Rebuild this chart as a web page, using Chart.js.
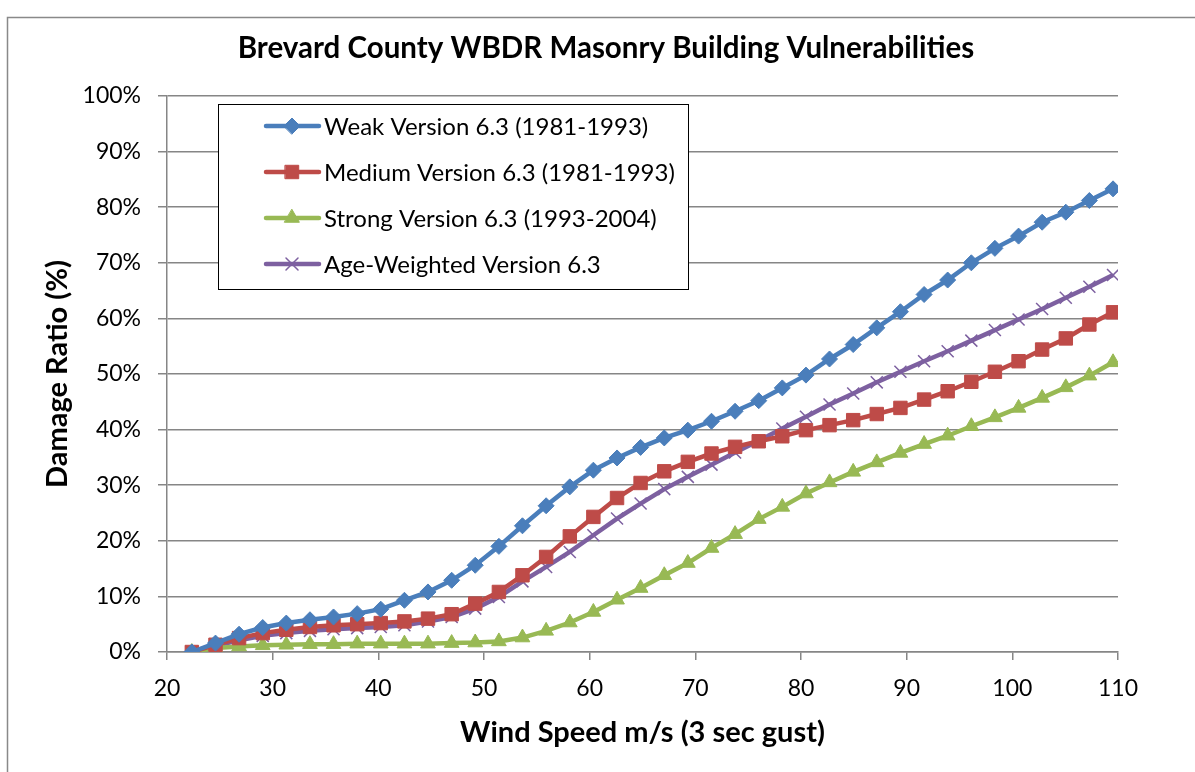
<!DOCTYPE html>
<html>
<head>
<meta charset="utf-8">
<script src="https://cdn.jsdelivr.net/npm/chart.js@4.4.1/dist/chart.umd.min.js"></script>
<style>
html,body{margin:0;padding:0;background:#fff;}
canvas{display:block;}
</style>
</head>
<body>
<canvas id="c" width="1195" height="772"></canvas>
<script>
// Wind speed (m/s, 3 sec gust) — 5 mph steps from 50 mph
const windSpeed = [22.35, 24.59, 26.82, 29.06, 31.29, 33.53, 35.76, 38.00, 40.23, 42.47,
  44.70, 46.94, 49.17, 51.41, 53.64, 55.88, 58.12, 60.35, 62.59, 64.82,
  67.06, 69.29, 71.53, 73.76, 76.00, 78.23, 80.47, 82.70, 84.94, 87.17,
  89.41, 91.65, 93.88, 96.12, 98.35, 100.59, 102.82, 105.06, 107.29, 109.53];

const weak = [0, 1.6, 3.2, 4.4, 5.2, 5.8, 6.3, 6.9, 7.7, 9.3,
  10.8, 12.9, 15.6, 19.0, 22.7, 26.3, 29.7, 32.7, 34.9, 36.8,
  38.5, 39.9, 41.5, 43.3, 45.2, 47.5, 49.8, 52.7, 55.3, 58.3,
  61.2, 64.3, 66.9, 70.0, 72.6, 74.8, 77.3, 79.1, 81.2, 83.3];

const medium = [0, 1.3, 2.5, 3.4, 4.0, 4.5, 4.8, 5.0, 5.2, 5.5,
  6.0, 6.8, 8.7, 10.8, 13.8, 17.1, 20.8, 24.3, 27.7, 30.4,
  32.5, 34.2, 35.7, 36.9, 37.9, 38.8, 39.9, 40.8, 41.7, 42.8,
  43.9, 45.4, 46.9, 48.6, 50.4, 52.3, 54.4, 56.4, 58.9, 61.1];

const strong = [0, 0.7, 1.0, 1.2, 1.3, 1.4, 1.4, 1.5, 1.5, 1.5,
  1.5, 1.6, 1.7, 1.9, 2.6, 3.8, 5.3, 7.2, 9.4, 11.5,
  13.8, 16.0, 18.7, 21.2, 23.9, 26.1, 28.5, 30.5, 32.4, 34.1,
  35.8, 37.4, 38.9, 40.6, 42.2, 43.9, 45.7, 47.6, 49.7, 52.1];

const ageWeighted = [0, 1.1, 2.1, 2.9, 3.4, 3.8, 4.1, 4.3, 4.5, 4.8,
  5.5, 6.3, 7.8, 9.9, 12.7, 15.3, 18.0, 21.0, 24.0, 26.7,
  29.3, 31.5, 33.7, 35.9, 38.0, 40.2, 42.3, 44.5, 46.5, 48.5,
  50.4, 52.3, 54.1, 56.0, 57.9, 59.8, 61.7, 63.7, 65.7, 67.8];

const seriesNames = ['Weak Version 6.3 (1981-1993)', 'Medium Version 6.3 (1981-1993)',
  'Strong Version 6.3 (1993-2004)', 'Age-Weighted Version 6.3'];

const chartTitle = 'Brevard County WBDR Masonry Building Vulnerabilities';

const xTicks = [20, 30, 40, 50, 60, 70, 80, 90, 100, 110];
const yTicks = [0, 10, 20, 30, 40, 50, 60, 70, 80, 90, 100];

const pts = arr => arr.map((v, i) => ({x: windSpeed[i], y: v}));

const styles = [
  {color: '#4A7EBB', pointStyle: 'rectRot', radius: 8, bw: 1},
  {color: '#BE4B48', pointStyle: 'rect', radius: 9.5, bw: 1},
  {color: '#98B954', pointStyle: 'triangle', radius: 8.5, bw: 1},
  {color: '#7D60A0', pointStyle: 'crossRot', radius: 8.5, bw: 1.5}
];
const seriesData = [weak, medium, strong, ageWeighted];

const datasets = seriesData.map((d, k) => ({
  label: seriesNames[k],
  data: pts(d),
  borderColor: styles[k].color,
  backgroundColor: styles[k].color,
  borderWidth: 4.5,
  pointStyle: styles[k].pointStyle,
  pointRadius: styles[k].radius,
  pointBorderWidth: styles[k].bw,
  pointBackgroundColor: styles[k].color,
  pointBorderColor: styles[k].color,
  tension: 0,
  fill: false
}));

const FONT = 'Lato, "Open Sans", sans-serif';

const bgPlugin = {
  id: 'bg',
  beforeDraw(chart) {
    const ctx = chart.ctx;
    ctx.save();
    ctx.fillStyle = '#fff';
    ctx.fillRect(0, 0, chart.width, chart.height);
    ctx.strokeStyle = '#898989';
    ctx.lineWidth = 1.5;
    ctx.beginPath();
    ctx.moveTo(7.5, 780);
    ctx.lineTo(7.5, 17.5);
    ctx.lineTo(1195, 17.5);
    ctx.stroke();
    ctx.fillStyle = '#000';
    ctx.font = 'bold 29.5px ' + FONT;
    ctx.textAlign = 'center';
    ctx.textBaseline = 'middle';
    ctx.fillText(chartTitle, 606, 48);
    ctx.restore();
  }
};

const legendPlugin = {
  id: 'boxLegend',
  afterDraw(chart) {
    const ctx = chart.ctx;
    const bx = 218.5, by = 104.5, bw = 470, bh = 185;
    ctx.save();
    ctx.fillStyle = '#fff';
    ctx.fillRect(bx, by, bw, bh);
    ctx.strokeStyle = '#000';
    ctx.lineWidth = 1;
    ctx.strokeRect(bx, by, bw, bh);
    const rows = [126, 172, 218, 264];
    chart.data.datasets.forEach((ds, i) => {
      const y = rows[i];
      ctx.strokeStyle = ds.borderColor;
      ctx.lineWidth = 4.5;
      ctx.lineCap = 'round';
      ctx.beginPath();
      ctx.moveTo(266, y);
      ctx.lineTo(319, y);
      ctx.stroke();
      ctx.fillStyle = ds.pointBackgroundColor;
      ctx.strokeStyle = ds.pointBorderColor;
      ctx.lineWidth = ds.pointBorderWidth;
      Chart.helpers.drawPoint(ctx, {pointStyle: ds.pointStyle, radius: ds.pointRadius, borderWidth: ds.pointBorderWidth}, 292, y);
      ctx.fillStyle = '#000';
      ctx.font = '24px ' + FONT;
      ctx.textBaseline = 'middle';
      ctx.textAlign = 'left';
      ctx.fillText(ds.label, 324, y + 1);
    });
    ctx.restore();
  }
};

new Chart(document.getElementById('c'), {
  type: 'line',
  data: {datasets},
  plugins: [bgPlugin, legendPlugin],
  options: {
    responsive: false,
    devicePixelRatio: 1,
    animation: false,
    layout: {padding: {left: 30, right: 77, top: 96, bottom: 22}},
    plugins: {
      legend: {display: false},
      tooltip: {enabled: false},
      title: {display: false}
    },
    scales: {
      x: {
        type: 'linear',
        min: 20, max: 110,
        afterBuildTicks(scale) { scale.ticks = xTicks.map(v => ({value: v})); },
        afterFit(scale) { scale.height = 98; },
        ticks: {color: '#000', font: {family: FONT, size: 23}, padding: 15, maxRotation: 0},
        grid: {drawOnChartArea: false, drawTicks: true, tickLength: 8, color: '#868686', lineWidth: 1.5},
        border: {color: '#868686', width: 1.5},
        title: {display: true, text: 'Wind Speed m/s (3 sec gust)', color: '#000',
          font: {family: FONT, size: 29, weight: 'bold'}, padding: {top: 0, bottom: 0}}
      },
      y: {
        min: 0, max: 100,
        afterBuildTicks(scale) { scale.ticks = yTicks.map(v => ({value: v})); },
        afterFit(scale) { scale.width = 137; },
        ticks: {color: '#000', font: {family: FONT, size: 23}, padding: 17, callback: v => v + '%'},
        grid: {color: '#868686', lineWidth: 1.5, tickLength: 9},
        border: {color: '#868686', width: 1.5},
        title: {display: true, text: 'Damage Ratio (%)', color: '#000',
          font: {family: FONT, size: 29, weight: 'bold'}, padding: {top: 10.6, bottom: 0}}
      }
    }
  }
});
</script>
</body>
</html>
